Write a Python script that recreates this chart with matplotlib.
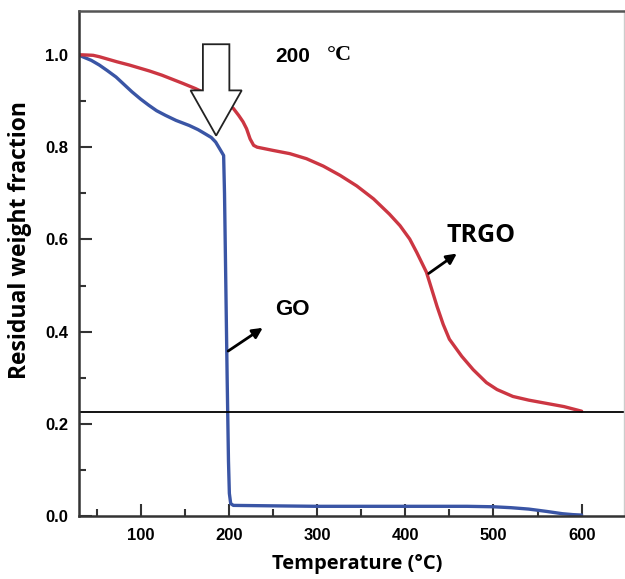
import matplotlib.pyplot as plt
from matplotlib.patches import FancyArrow
from matplotlib.ticker import MultipleLocator

# TGA curves (temperature in °C, residual weight fraction)
go_temp = [30, 34, 44, 53, 62, 72, 81, 90, 100, 109, 118, 128, 140, 155, 165,
           173, 180, 185, 190, 194, 195, 196.5, 198, 199.5, 200.5, 202, 205,
           250, 300, 400, 470, 500, 520, 540, 560, 578, 590, 600]
go_weight = [1.0, 0.996, 0.988, 0.978, 0.966, 0.952, 0.936, 0.92, 0.904, 0.891,
             0.879, 0.869, 0.858, 0.847, 0.838, 0.829, 0.821, 0.811, 0.795,
             0.782, 0.70, 0.50, 0.30, 0.12, 0.05, 0.028, 0.024, 0.023, 0.022,
             0.022, 0.022, 0.021, 0.019, 0.016, 0.011, 0.006, 0.004, 0.003]

trgo_temp = [30, 34, 46, 53, 73, 87, 110, 124, 148, 162, 186, 200, 205, 211,
             216, 220, 224, 228, 232, 250, 269, 288, 307, 326, 345, 364, 382,
             394, 405, 413, 424, 430, 436, 443, 450, 464, 477, 492, 504, 522,
             540, 560, 580, 600]
trgo_weight = [1.0, 1.0, 0.999, 0.996, 0.985, 0.978, 0.965, 0.956, 0.938, 0.927,
               0.905, 0.891, 0.884, 0.869, 0.855, 0.84, 0.818, 0.804, 0.800,
               0.793, 0.786, 0.775, 0.759, 0.739, 0.716, 0.688, 0.655, 0.630,
               0.601, 0.572, 0.529, 0.492, 0.455, 0.416, 0.384, 0.347, 0.318,
               0.290, 0.275, 0.260, 0.252, 0.245, 0.238, 0.228]

residue_level = 0.226
x_ticks = [100, 200, 300, 400, 500, 600]
y_ticks = [0.0, 0.2, 0.4, 0.6, 0.8, 1.0]

fig = plt.figure(figsize=(6.25, 5.79), dpi=100)
ax = fig.add_axes([0.1264, 0.108, 0.872, 0.873])

ax.plot(go_temp, go_weight, color='#3a55a5', lw=2.4, solid_capstyle='round',
        solid_joinstyle='round')
ax.plot(trgo_temp, trgo_weight, color='#cc3642', lw=2.4,
        solid_capstyle='round', solid_joinstyle='round')
ax.axhline(residue_level, color='black', lw=1.3)

# hollow arrow pointing at 200 °C
ax.add_patch(FancyArrow(185.5, 1.023, 0, -0.198, width=30, head_width=58,
                        head_length=0.098, length_includes_head=True,
                        fc='white', ec='#222222', lw=1.3, zorder=3))

ax.text(252, 0.997, '200', fontsize=15, fontweight='bold',
        family='Liberation Sans', va='center')
ax.text(311, 1.0, '°C', fontsize=16, fontweight='bold',
        family='Liberation Serif', va='center')

ax.annotate('', xy=(241, 0.412), xytext=(196.5, 0.355),
            arrowprops=dict(arrowstyle='-|>,head_length=0.6,head_width=0.3',
                            color='black', lw=2))
ax.text(252, 0.449, 'GO', fontsize=16, fontweight='bold',
        family='Liberation Sans', va='center')

ax.annotate('', xy=(461, 0.573), xytext=(424, 0.523),
            arrowprops=dict(arrowstyle='-|>,head_length=0.6,head_width=0.3',
                            color='black', lw=2))
ax.text(447, 0.608, 'TRGO', fontsize=18, fontweight='bold',
        family='Open Sans', va='center')

ax.set_xlim(30, 648)
ax.set_ylim(0, 1.095)
ax.set_xticks(x_ticks)
ax.set_yticks(y_ticks)
ax.xaxis.set_minor_locator(MultipleLocator(50))
ax.yaxis.set_minor_locator(MultipleLocator(0.1))
ax.tick_params(which='major', direction='in', length=9, width=1.5,
               color='#333333', labelsize=12, pad=8)
ax.tick_params(which='minor', direction='in', length=5, width=1.5,
               color='#333333')
for lab in ax.get_xticklabels() + ax.get_yticklabels():
    lab.set_fontweight('bold')
    lab.set_family('Liberation Sans')

for side in ['left', 'bottom']:
    ax.spines[side].set_color('#333333')
    ax.spines[side].set_linewidth(1.8)
ax.spines['top'].set_color('#555555')
ax.spines['top'].set_linewidth(1.8)
ax.spines['right'].set_color('#cccccc')
ax.spines['right'].set_linewidth(1)

ax.set_xlabel('Temperature (°C)', fontsize=14.5, fontweight='bold',
              family='Open Sans')
ax.set_ylabel('Residual weight fraction', fontsize=16.5, fontweight='bold',
              family='Open Sans')
ax.xaxis.set_label_coords(0.51, -0.074)
ax.yaxis.set_label_coords(-0.086, 0.5475)

fig.savefig('out.png', dpi=100)
